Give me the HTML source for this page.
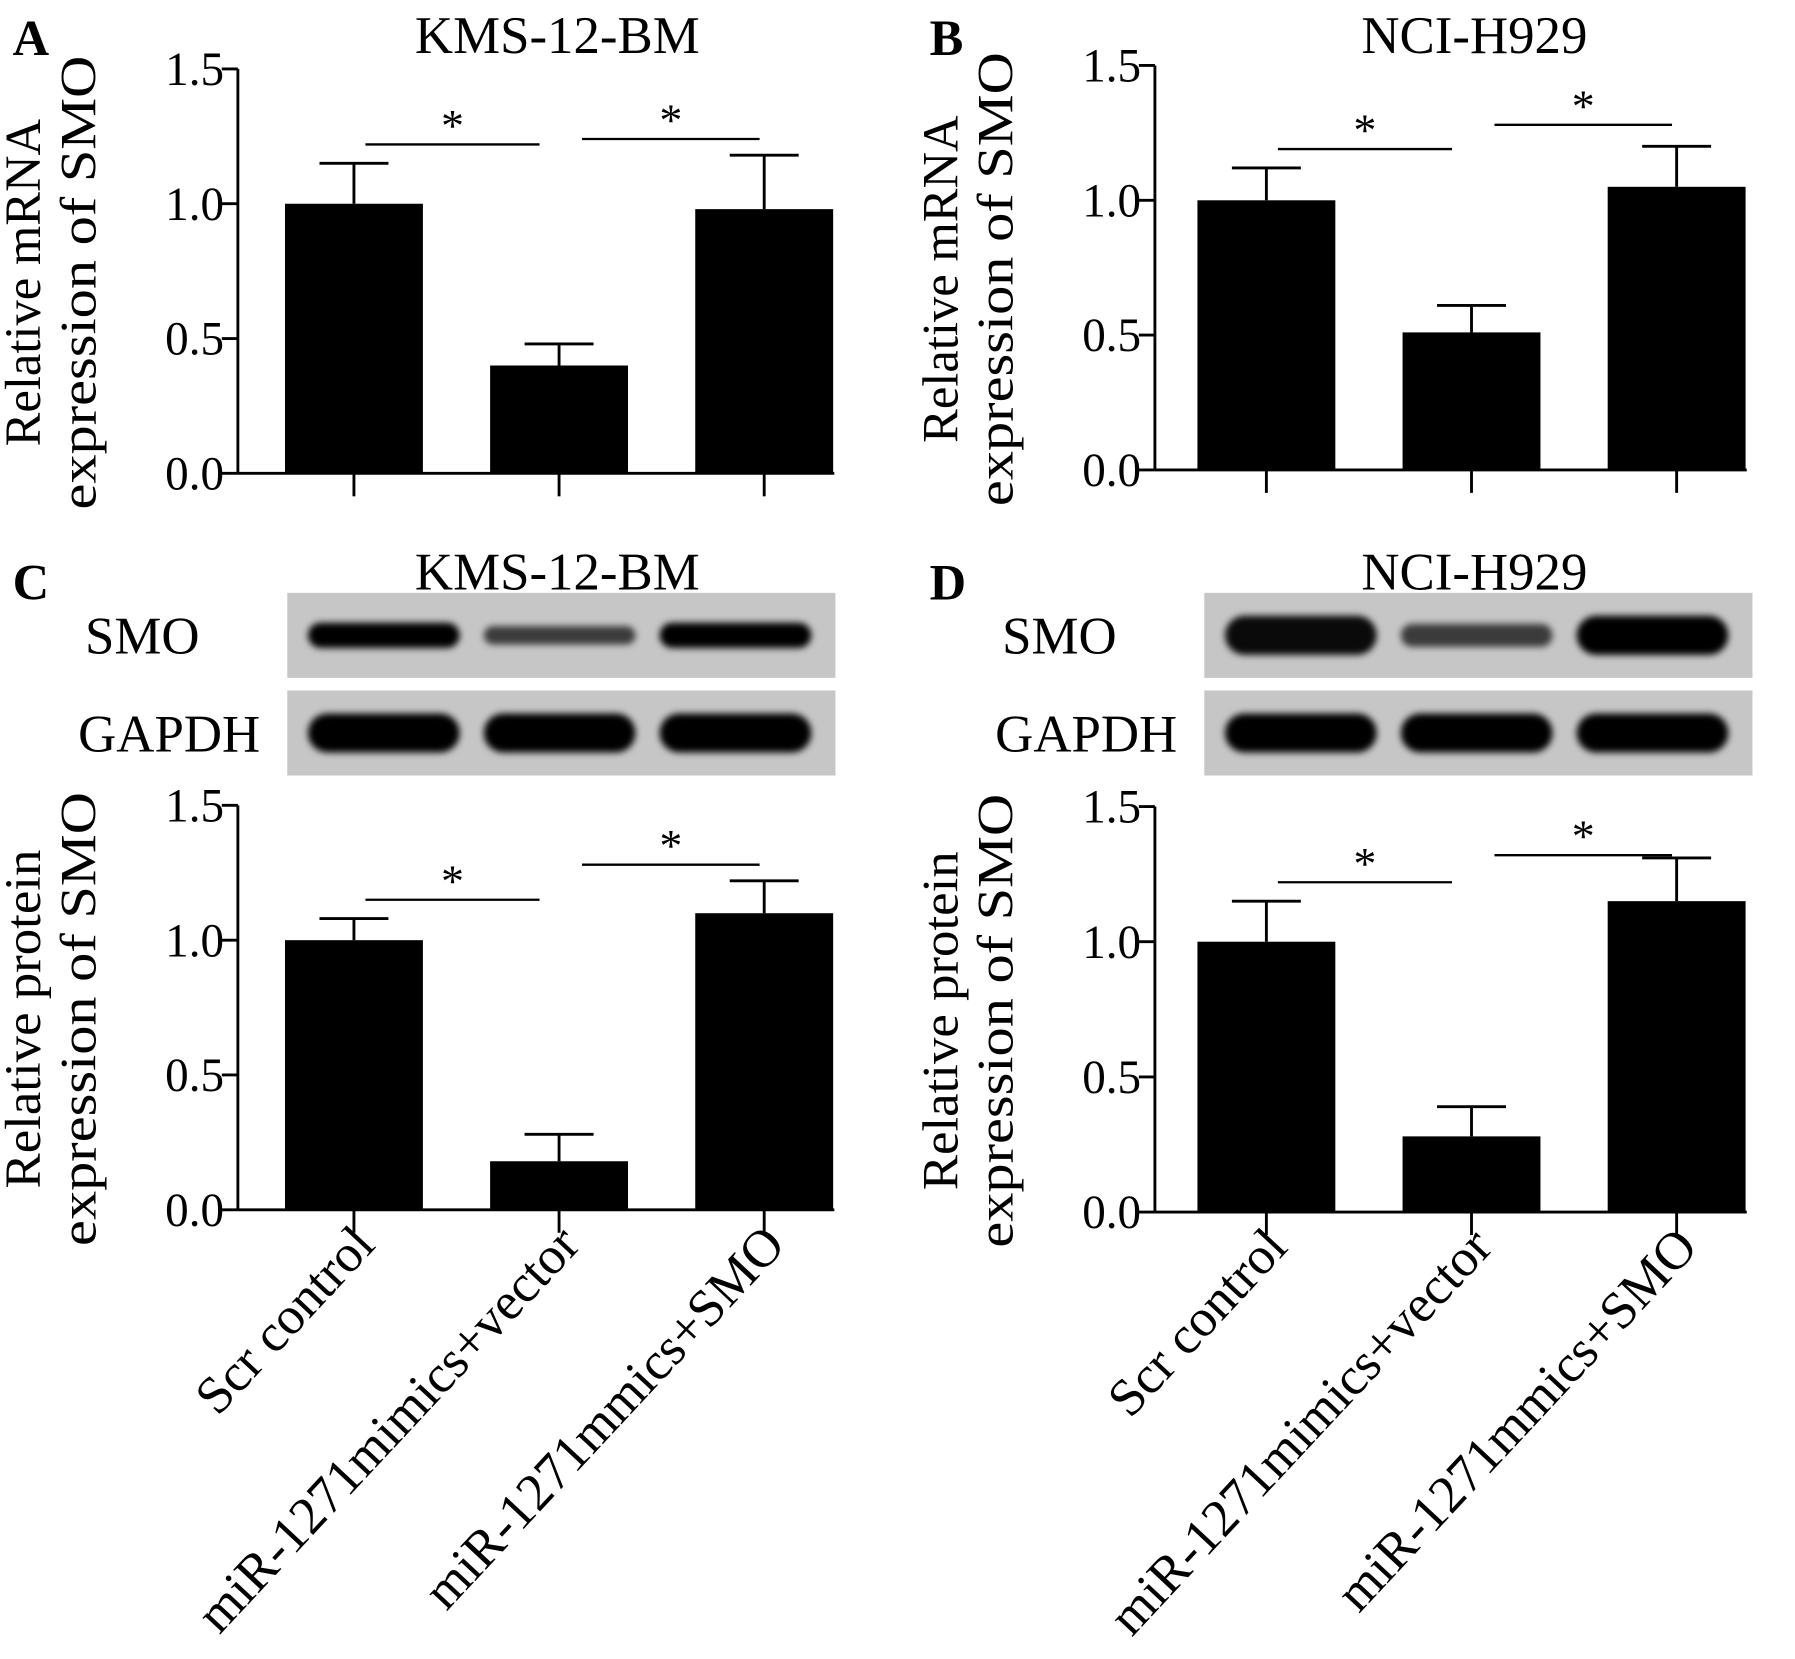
<!DOCTYPE html>
<html><head><meta charset="utf-8"><style>
html,body{margin:0;padding:0;background:#fff;}
svg{display:block;}
text{font-family:"Liberation Serif",serif;fill:#000;}
</style></head><body>
<svg id="fig" width="1795" height="1659" viewBox="0 0 1562 1444" preserveAspectRatio="none" xmlns="http://www.w3.org/2000/svg">
<defs>
<filter id="blur" x="-20%" y="-50%" width="140%" height="200%"><feGaussianBlur stdDeviation="3"/></filter>
</defs>
</svg>
<script>
const categories = ["Scr control","miR-1271mimics+vector","miR-1271mmics+SMO"];
const yTicks = [0.0,0.5,1.0,1.5];
const tickLabels = ["0.0","0.5","1.0","1.5"];
const valuesA = [1.0,0.40,0.98];
const errorsA = [1.15,0.48,1.18];
const valuesB = [1.0,0.51,1.05];
const errorsB = [1.12,0.61,1.20];
const valuesC = [1.0,0.18,1.10];
const errorsC = [1.08,0.28,1.22];
const valuesD = [1.0,0.28,1.15];
const errorsD = [1.15,0.39,1.31];
const sigA = [1.22,1.24];
const sigB = [1.19,1.28];
const sigC = [1.15,1.28];
const sigD = [1.22,1.32];

const svg = document.getElementById('fig');
const NS = 'http://www.w3.org/2000/svg';
function mk(tag, attrs, parent, txt){
  const e = document.createElementNS(NS, tag);
  for (const k in attrs) e.setAttribute(k, attrs[k]);
  if (txt !== undefined) e.textContent = txt;
  (parent||svg).appendChild(e);
  return e;
}

const panels = [
  {id:'a', letter:'A', title:'KMS-12-BM', ax:207, off:101, y0:412, y15:60, vals:valuesA, errs:errorsA, sig:sigA, l1:'Relative mRNA', xlabels:false},
  {id:'b', letter:'B', title:'NCI-H929', ax:1005, off:101, y0:409, y15:57, vals:valuesB, errs:errorsB, sig:sigB, l1:'Relative mRNA', xlabels:false},
  {id:'c', letter:'C', title:'KMS-12-BM', ax:207, off:101, y0:1053, y15:701, vals:valuesC, errs:errorsC, sig:sigC, l1:'Relative protein', xlabels:true},
  {id:'d', letter:'D', title:'NCI-H929', ax:1005, off:101, y0:1055, y15:702, vals:valuesD, errs:errorsD, sig:sigD, l1:'Relative protein', xlabels:true}
];
panels[1].off = 97; panels[3].off = 97;

panels.forEach(p => {
  const g = mk('g', {});
  
  
  const top = p.id==='a'||p.id==='b';
  const y = v => p.y0 - (v/1.5)*(p.y0 - p.y15);
  const xc = i => p.ax + p.off + i*178.5;
  const bw = 120;
  const letter = mk('text', {x: p.ax-196, y: top ? 48 : 522, 'font-size':44, 'font-weight':'bold'}, g, p.letter);
  
  
  const t = mk('text', {x: p.ax+278, y: top ? 46 : 513, 'font-size':46, 'text-anchor':'middle'}, g, p.title);
  
  
  const yl = mk('line', {x1:p.ax, x2:p.ax, y1:y(1.5), y2:y(0), stroke:'#000', 'stroke-width':2.5}, g);
  
  
  yTicks.forEach((v,i) => {
    mk('line', {x1:p.ax-14, x2:p.ax, y1:y(v), y2:y(v), stroke:'#000', 'stroke-width':2.5}, g);
    const tl = mk('text', {x:p.ax-12, y:y(v)+14, 'font-size':41, 'text-anchor':'end'}, g, tickLabels[i]);
    
    
  });
  const xl = mk('line', {x1:p.ax, x2:xc(2)+bw/2+1, y1:y(0), y2:y(0), stroke:'#000', 'stroke-width':2.5}, g);
  
  
  const cy = (y(0)+y(1.5))/2;
  const yt1 = mk('text', {x:0, y:0, 'font-size':44, 'text-anchor':'middle', textLength: p.xlabels?295:285, lengthAdjust:'spacingAndGlyphs', transform:`translate(${p.ax-172},${cy+10}) rotate(-90)`}, g, p.l1);
  
  
  const yt2 = mk('text', {x:0, y:0, 'font-size':44, 'text-anchor':'middle', textLength:395, lengthAdjust:'spacingAndGlyphs', transform:`translate(${p.ax-124},${cy+10}) rotate(-90)`}, g, 'expression of SMO');
  
  
  p.vals.forEach((v,i) => {
    mk('line', {x1:xc(i), x2:xc(i), y1:y(0), y2:y(0)+20, stroke:'#000', 'stroke-width':2.5}, g);
    const eb = mk('line', {x1:xc(i), x2:xc(i), y1:y(p.errs[i]), y2:y(v), stroke:'#000', 'stroke-width':2.5}, g);
    
    
    mk('line', {x1:xc(i)-30, x2:xc(i)+30, y1:y(p.errs[i]), y2:y(p.errs[i]), stroke:'#000', 'stroke-width':2.5}, g);
    const r = mk('rect', {x:xc(i)-bw/2, y:y(v), width:bw, height:y(0)-y(v), fill:'#000'}, g);
    
    
  });
  p.sig.forEach((s,k) => {
    const x1 = k===0 ? xc(0)+10 : xc(1)+20;
    const x2 = k===0 ? xc(1)-17 : xc(2)-4;
    const sl = mk('line', {x1:x1, x2:x2, y1:y(s), y2:y(s), stroke:'#000', 'stroke-width':2}, g);
    
    
    const st = mk('text', {x:(x1+x2)/2, y:y(s)-3, 'font-size':40, 'text-anchor':'middle'}, g, '*');
    
    
  });
  if (p.xlabels) {
    categories.forEach((c,i) => {
      const lbl = mk('text', {x:0, y:0, 'font-size':46, 'text-anchor':'end', transform:`translate(${xc(i)+20},${y(0)+32}) rotate(-47)`}, g, c);
      
      
    });
    const bx = p.ax + 43, bwid = 477;
    const intens = p.id==='c' ? [[1,0.7,1],[1,1,1]] : [[0.95,0.7,1],[1,1,1]];
    [['SMO',516,0],['GAPDH',601,1]].forEach(([name,topy,row]) => {
      const lab = mk('text', {x: name==='SMO'? p.ax-133 : p.ax-139, y: topy+53, 'font-size':46}, g, name);
      
      
      const bg = mk('rect', {x:bx, y:topy, width:bwid, height:74, fill:'#c6c6c6'}, g);
      
      
      for (let i=0;i<3;i++){
        const h = row===0 ? (p.id==='d' ? (i===1?20:34) : (i===1?16:22)) : 34;
        const bd = mk('rect', {x:bx+18+i*153, y:topy+37-h/2, width:132, height:h, rx:h/2, fill:'#000', 'fill-opacity':intens[row][i], filter:'url(#blur)'}, g);
        
        
      }
    });
  }
});
</script>
</body></html>
